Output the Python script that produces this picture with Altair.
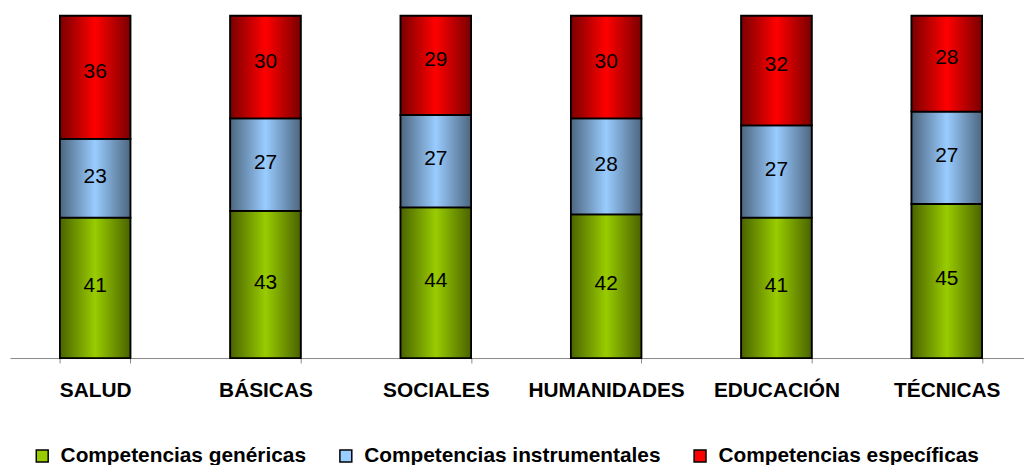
import altair as alt
import pandas as pd

categories = ["SALUD", "BÁSICAS", "SOCIALES", "HUMANIDADES", "EDUCACIÓN", "TÉCNICAS"]
series = ["Competencias genéricas", "Competencias instrumentales", "Competencias específicas"]
genericas = [41, 43, 44, 42, 41, 45]
instrumentales = [23, 27, 27, 28, 27, 27]
especificas = [36, 30, 29, 30, 32, 28]

rows = []
for i, c in enumerate(categories):
    for j, (s, vals) in enumerate(zip(series, [genericas, instrumentales, especificas])):
        rows.append({"cat": c, "series": s, "order": j, "value": vals[i]})
df = pd.DataFrame(rows)

def grad(dark, light):
    return {
        "gradient": "linear", "x1": 0, "y1": 0, "x2": 1, "y2": 0,
        "stops": [
            {"offset": 0, "color": dark},
            {"offset": 0.5, "color": light},
            {"offset": 1, "color": dark},
        ],
    }

fills = {
    series[0]: grad("#4a6300", "#99cc00"),
    series[1]: grad("#4d6680", "#99ccff"),
    series[2]: grad("#7a0000", "#ff0000"),
}
solid = ["#99cc00", "#99ccff", "#ff0000"]

xenc = alt.X(
    "cat:N", sort=categories, title=None,
    scale=alt.Scale(type="band", paddingInner=0.586, paddingOuter=0.293),
    axis=alt.Axis(labelAngle=0, labelFont="Liberation Sans", labelFontWeight="bold",
                  labelFontSize=21, labelColor="black", labelPadding=17,
                  tickSize=5, tickColor="#888888", domainColor="#888888",
                  tickBand="extent", grid=False),
)
yscale = alt.Scale(domain=[0, 100], nice=False)

base = alt.Chart(df).transform_stack(
    stack="value", groupby=["cat"], as_=["y0", "y1"],
    sort=[alt.SortField("order", order="ascending")],
).transform_calculate(
    mid="(datum.y0 + datum.y1) / 2 + (datum.order == 2 ? 1.5 : 0.5)"
)

legend_layer = base.mark_bar(stroke="black", strokeWidth=1.5).encode(
    x=xenc,
    y=alt.Y("y0:Q", scale=yscale, axis=None),
    y2="y1:Q",
    color=alt.Color(
        "series:N", scale=alt.Scale(domain=series, range=solid),
        legend=alt.Legend(
            title=None, orient="none", direction="horizontal",
            legendX=22, legendY=433, symbolType="square", symbolSize=144,
            labelFont="Liberation Sans", labelFontWeight="bold", labelFontSize=21,
            labelColor="black", labelOffset=8, columnPadding=29, padding=0,
            labelLimit=0,
            symbolStrokeColor="black", symbolStrokeWidth=1.5,
        ),
    ),
)

bar_layers = []
for s in series:
    bar_layers.append(
        base.transform_filter(alt.datum.series == s).mark_bar(
            stroke="black", strokeWidth=1.8
        ).encode(
            x=xenc,
            y=alt.Y("y0:Q", scale=yscale, axis=None),
            y2="y1:Q",
            color=alt.value(fills[s]),
        )
    )

text_layer = base.mark_text(font="Liberation Sans", fontSize=21, color="black").encode(
    x=xenc,
    y=alt.Y("mid:Q", scale=yscale, axis=None),
    text="value:Q",
)

chart = alt.layer(legend_layer, *bar_layers, text_layer).properties(
    width=1030, height=345,
    padding={"left": 2, "top": 6, "right": -8, "bottom": 106},
    autosize=alt.AutoSizeParams(type="none"),
).configure(background="white").configure_view(stroke=None)

chart.save("out.html", embed_options={"renderer": "svg", "actions": False})
